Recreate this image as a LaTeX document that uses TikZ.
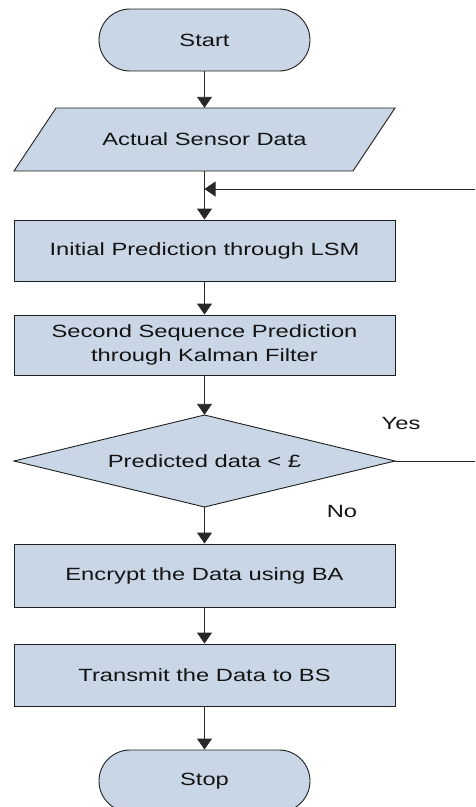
\documentclass[tikz,border=0pt]{standalone}
\usepackage{fontspec}
\setmainfont{Liberation Sans}[FakeStretch=1.34]
\usetikzlibrary{arrows.meta,shapes.misc}
\definecolor{boxfill}{RGB}{201,214,229}
\definecolor{edgecol}{RGB}{30,30,30}
\definecolor{linecol}{RGB}{40,40,40}
\tikzset{
  txt/.style={font=\fontsize{17.7}{23.5}\selectfont, text=black!92, align=center, inner sep=0pt},
  procbox/.style={txt, draw=edgecol, fill=boxfill, line width=0.9pt, minimum width=381pt, rectangle},
  termbox/.style={txt, draw=edgecol, fill=boxfill, line width=0.9pt, rounded rectangle, minimum width=211pt, minimum height=62pt},
  shapeline/.style={draw=edgecol, fill=boxfill, line width=0.9pt},
  ghost/.style={txt, minimum width=381pt},
  conn/.style={draw=linecol, line width=0.9pt, -{Triangle[length=11pt,width=15pt]}},
  plainconn/.style={draw=linecol, line width=0.9pt},
  lbl/.style={font=\fontsize{17.7}{23.5}\selectfont, text=black!92, inner sep=0pt}
}
\begin{document}
\begin{tikzpicture}[x=1pt,y=-1pt]
\clip (0,0) rectangle (475,807);
% start
\node[termbox] (start) at (204.5,40) {Start};
% parallelogram
\path[shapeline] (56,108) -- (395,108) -- (353,171) -- (14,171) -- cycle;
\node[ghost, minimum height=63pt] (asd) at (204.5,139.5) {Actual Sensor Data};
% boxes
\node[procbox, minimum height=61pt] (lsm) at (204.5,250.5) {Initial Prediction through LSM};
\node[procbox, minimum height=60pt] (kal) at (204.5,345) {Second Sequence Prediction\\through Kalman Filter};
% diamond
\path[shapeline] (204.5,415) -- (395,461) -- (204.5,507) -- (14,461) -- cycle;
\node[ghost, minimum height=92pt] (pred) at (204.5,461) {Predicted data < £};
\node[procbox, minimum height=63pt] (enc) at (204.5,575.5) {Encrypt the Data using BA};
\node[procbox, minimum height=62pt] (tx) at (204.5,675) {Transmit the Data to BS};
\node[termbox] (stop) at (204.5,781) {Stop};
% labels
\node[lbl] (yes) at (401,423) {Yes};
\node[lbl] (no) at (342,511) {No};
% coordinates
\coordinate (j) at (204.5,189);
\coordinate (fb) at (476,189);
\coordinate (yr) at (476,461);
% connectors
\draw[conn] (start.south) -- (asd.north);
\draw[conn] (asd.south) -- (lsm.north);
\draw[conn] (fb) -- (j);
\draw[conn] (lsm.south) -- (kal.north);
\draw[conn] (kal.south) -- (pred.north);
\draw[plainconn] (pred.east) -- (yr);
\draw[conn] (pred.south) -- (enc.north);
\draw[conn] (enc.south) -- (tx.north);
\draw[conn] (tx.south) -- (stop.north);
\end{tikzpicture}
\end{document}
